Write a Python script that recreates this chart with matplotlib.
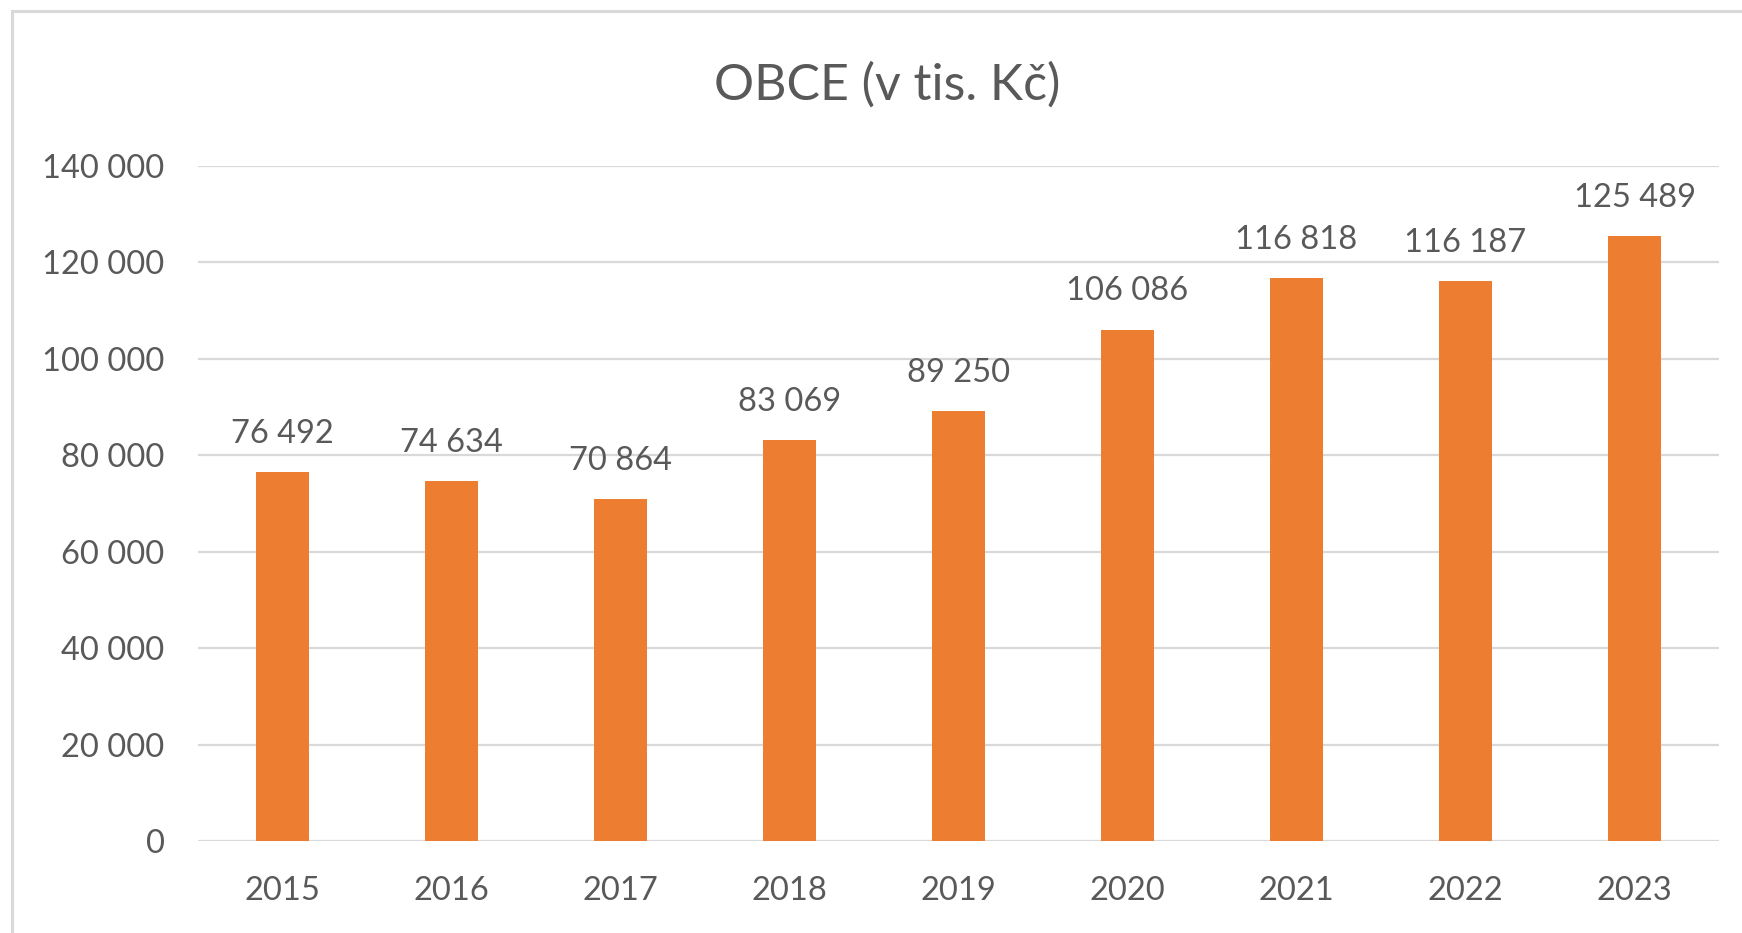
import matplotlib
matplotlib.use("Agg")
import matplotlib.pyplot as plt
from matplotlib.patches import Rectangle

years = ["2015", "2016", "2017", "2018", "2019", "2020", "2021", "2022", "2023"]
values = [76492, 74634, 70864, 83069, 89250, 106086, 116818, 116187, 125489]
yticks = [0, 20000, 40000, 60000, 80000, 100000, 120000, 140000]
title = "OBCE (v tis. Kč)"

def fmt(v):
    return f"{v:,}".replace(",", " ")

plt.rcParams['font.family'] = ['Lato', 'DejaVu Sans']
TXT = "#595959"
GRID = "#d9d9d9"
BAR = "#ED7D31"

W, H = 1742, 933
fig = plt.figure(figsize=(W / 100, H / 100), dpi=100)
fig.patch.set_facecolor("white")

# chart border (extends beyond right/bottom edges)
fig.add_artist(Rectangle((12 / W, -0.1), 1.2, 1 - 11 / H + 0.1,
                         transform=fig.transFigure, fill=False,
                         edgecolor=GRID, linewidth=2.2))

ax = fig.add_axes([198 / W, 1 - 841 / H, (1719 - 198) / W, (841 - 166) / H])
x = list(range(len(years)))
bars = ax.bar(x, values, width=0.31, color=BAR, zorder=3)
ax.set_xlim(-0.5, len(years) - 0.5)
ax.set_ylim(0, 140000)
ax.set_yticks(yticks)
ax.set_yticklabels([fmt(v) for v in yticks])
ax.set_xticks(x)
ax.set_xticklabels(years)
ax.tick_params(axis='y', length=0, pad=24, labelsize=23.5, labelcolor=TXT)
ax.tick_params(axis='x', length=0, pad=25, labelsize=23.5, labelcolor=TXT)
for s in ax.spines.values():
    s.set_visible(False)
ax.grid(axis='y', color=GRID, linewidth=1.6, zorder=0)
ax.set_axisbelow(True)

for xi, v in zip(x, values):
    ax.annotate(fmt(v), (xi, v), xytext=(0, 21), textcoords='offset points',
                ha='center', va='baseline', fontsize=23.5, color=TXT)

fig.text(887 / W, 1 - 100 / H, title, ha='center', va='baseline',
         fontsize=36, color=TXT)

fig.savefig("out.png", dpi=100)
